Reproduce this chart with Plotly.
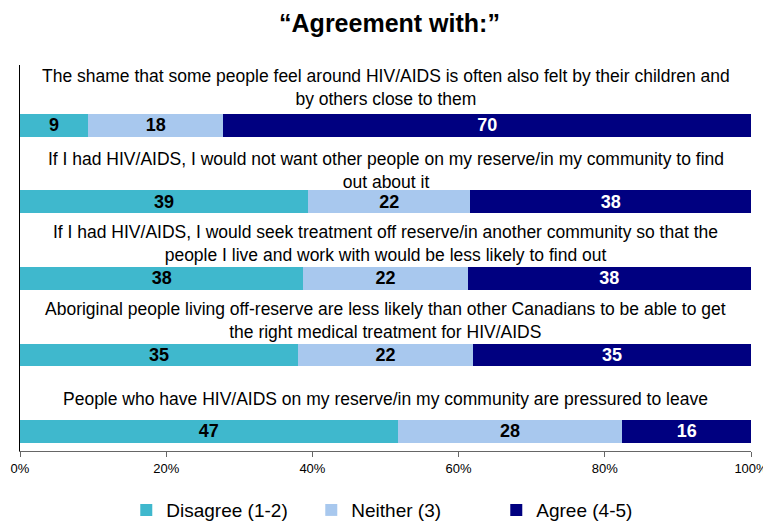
import plotly.graph_objects as go

statements = [
    "The shame that some people feel around HIV/AIDS is often also felt by their children and<br>by others close to them",
    "If I had HIV/AIDS, I would not want other people on my reserve/in my community to find<br>out about it",
    "If I had HIV/AIDS, I would seek treatment off reserve/in another community so that the<br>people I live and work with would be less likely to find out",
    "Aboriginal people living off-reserve are less likely than other Canadians to be able to get<br>the right medical treatment for HIV/AIDS",
    "People who have HIV/AIDS on my reserve/in my community are pressured to leave",
]
disagree = [9, 39, 38, 35, 47]
neither = [18, 22, 22, 22, 28]
agree = [70, 38, 38, 35, 16]
series_names = ["Disagree (1-2)", "Neither (3)", "Agree (4-5)"]
colors = ["#3FB8CD", "#A8C8EE", "#000080"]
text_colors = ["black", "black", "white"]
tick_vals = [0, 20, 40, 60, 80, 100]
tick_text = ["0%", "20%", "40%", "60%", "80%", "100%"]

FONT = "Liberation Sans, Arial, sans-serif"

n = len(statements)
ypos = [n - 1 - i for i in range(n)]

fig = go.Figure()
for name, vals, col, tc in zip(series_names, [disagree, neither, agree], colors, text_colors):
    fig.add_trace(go.Bar(
        y=ypos, x=vals, name=name, orientation="h",
        marker=dict(color=col, line=dict(width=0)),
        text=vals, texttemplate="<b>%{text}</b>", textposition="inside",
        insidetextanchor="middle", textangle=0, constraintext="none",
        textfont=dict(family=FONT, size=18, color=tc),
        width=0.3,
    ))

label_gap = [0.04, -0.04, 0.0, -0.01, 0.12]
for i, s in enumerate(statements):
    fig.add_annotation(
        x=50, y=ypos[i] + 0.15 + label_gap[i], xref="x", yref="y",
        text=s, showarrow=False, yanchor="bottom", xanchor="center",
        align="center",
        font=dict(family=FONT, size=17.5, color="black"),
    )

# page body has an 8px margin, so the figure is sized to fit the 771x525 window
fig.update_layout(
    barmode="stack", barnorm="percent",
    width=763, height=517,
    margin=dict(l=12, r=20, t=57, b=74, autoexpand=False),
    paper_bgcolor="white", plot_bgcolor="white",
    title=dict(text="<b>“Agreement with:”</b>", x=0.5, xanchor="center",
               y=0.971, yanchor="middle",
               font=dict(family=FONT, size=25, color="black")),
    showlegend=True,
    legend=dict(orientation="h", x=0.525, xanchor="center", y=-0.153, yanchor="middle",
                font=dict(family=FONT, size=19, color="black"),
                itemwidth=30, entrywidth=140, entrywidthmode="pixels",
                traceorder="normal"),
    xaxis=dict(range=[0, 100], tickvals=tick_vals, ticktext=tick_text,
               showgrid=False, zeroline=False, showline=True, linecolor="#666666",
               linewidth=1, ticks="outside", ticklen=5, tickcolor="#666666",
               automargin=False,
               tickfont=dict(family=FONT, size=13, color="black")),
    yaxis=dict(range=[-0.255, 4.79], showticklabels=False, showgrid=False,
               automargin=False,
               zeroline=False, showline=True, linecolor="black", linewidth=1),
)

fig.write_html("out.html")
